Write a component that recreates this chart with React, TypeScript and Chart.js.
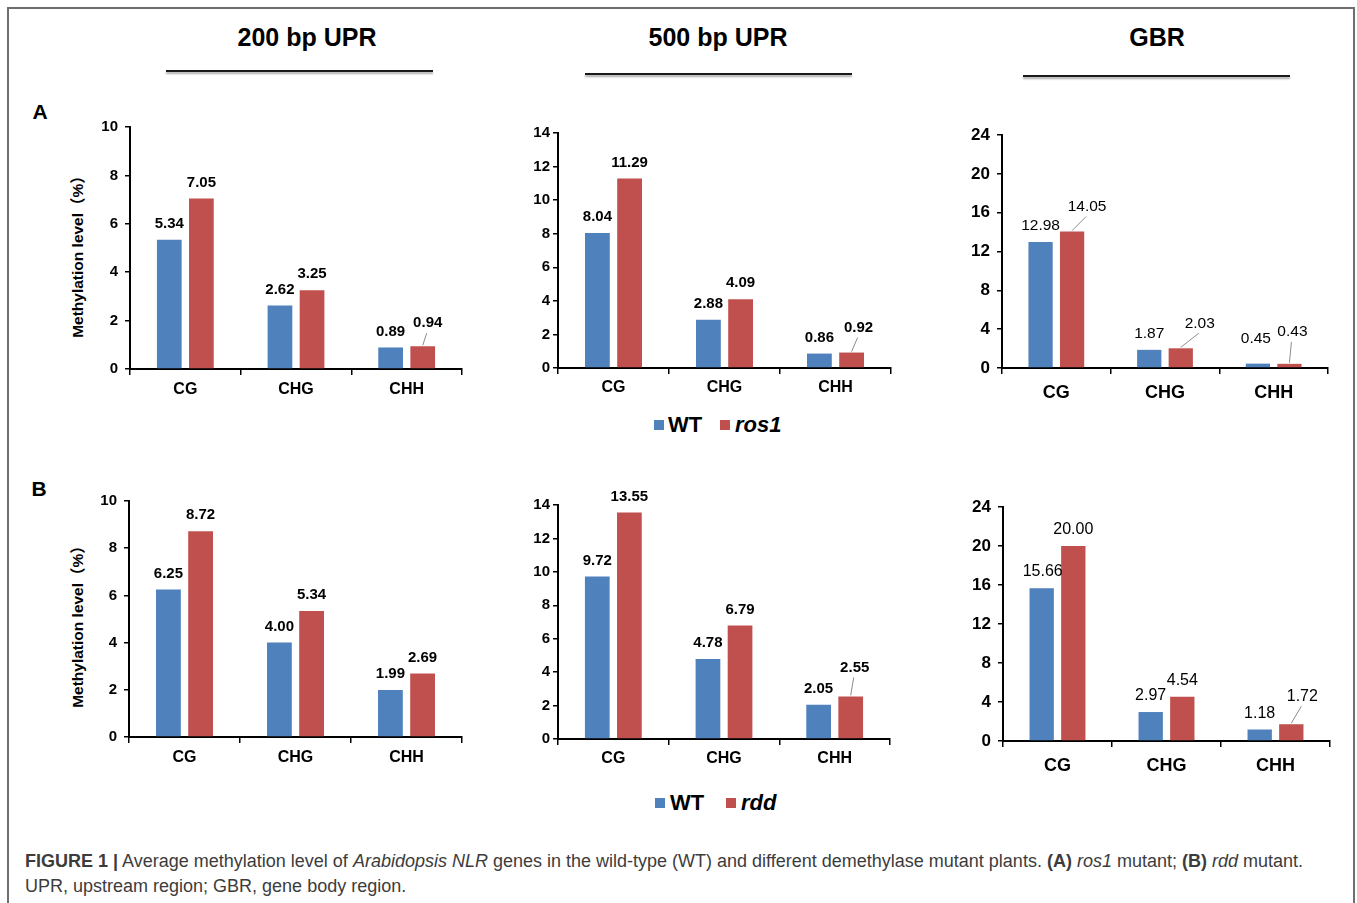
import React, { useEffect, useRef } from 'react';
import { Chart, registerables } from 'chart.js';

Chart.register(...registerables);

// ---------- data ----------
const categories = ['CG', 'CHG', 'CHH'];

const wtA200 = [5.34, 2.62, 0.89];
const ros1A200 = [7.05, 3.25, 0.94];
const wtA500 = [8.04, 2.88, 0.86];
const ros1A500 = [11.29, 4.09, 0.92];
const wtAGBR = [12.98, 1.87, 0.45];
const ros1AGBR = [14.05, 2.03, 0.43];

const wtB200 = [6.25, 4.0, 1.99];
const rddB200 = [8.72, 5.34, 2.69];
const wtB500 = [9.72, 4.78, 2.05];
const rddB500 = [13.55, 6.79, 2.55];
const wtBGBR = [15.66, 2.97, 1.18];
const rddBGBR = [20.0, 4.54, 1.72];

const ticks200 = [0, 2, 4, 6, 8, 10];
const ticks500 = [0, 2, 4, 6, 8, 10, 12, 14];
const ticksGBR = [0, 4, 8, 12, 16, 20, 24];

const regionTitles = ['200 bp UPR', '500 bp UPR', 'GBR'];
const yTitle = 'Methylation level（%）';

// ---------- styles ----------
const BLUE = '#4F81BD';
const RED = '#C0504D';
const FONT = "'Liberation Sans', Arial, Helvetica, sans-serif";
const CJKFONT = "'Liberation Sans', Arial, 'Noto Sans CJK SC', sans-serif";

const PADL = 60;
const PADT = 34;
const PADR = 14;
const XAX = 44;

type Nudge = { ds: number; i: number; dx: number; dy: number; leader?: boolean };
type Font = { size: number; weight: string };
type Panel = {
  wt: number[];
  mut: number[];
  mutName: string;
  ticks: number[];
  area: { l: number; t: number; r: number; b: number };
  tickFont: Font;
  tickPad: number;
  catFont: Font;
  catPad: number;
  labelFont: Font;
  nudges: Nudge[];
};

const small200Fonts = {
  tickFont: { size: 15, weight: 'bold' },
  tickPad: 7,
  catFont: { size: 16, weight: 'bold' },
  catPad: 5,
  labelFont: { size: 15, weight: 'bold' },
};
const mid500Fonts = {
  tickFont: { size: 15, weight: 'bold' },
  tickPad: 3,
  catFont: { size: 16, weight: 'bold' },
  catPad: 4,
  labelFont: { size: 15, weight: 'bold' },
};
const gbrFonts = {
  tickFont: { size: 17, weight: 'bold' },
  tickPad: 7,
  catFont: { size: 18, weight: 'bold' },
  catPad: 8,
  labelFont: { size: 15.5, weight: 'normal' },
};

const panels: Panel[] = [
  {
    wt: wtA200, mut: ros1A200, mutName: 'ros1', ticks: ticks200,
    area: { l: 130, t: 127, r: 462, b: 369 },
    ...small200Fonts,
    nudges: [{ ds: 1, i: 2, dx: 5, dy: -23, leader: true }],
  },
  {
    wt: wtA500, mut: ros1A500, mutName: 'ros1', ticks: ticks500,
    area: { l: 558, t: 133, r: 891, b: 368 },
    ...mid500Fonts,
    nudges: [{ ds: 1, i: 2, dx: 7, dy: -25, leader: true }],
  },
  {
    wt: wtAGBR, mut: ros1AGBR, mutName: 'ros1', ticks: ticksGBR,
    area: { l: 1002, t: 135, r: 1328, b: 368 },
    ...gbrFonts,
    nudges: [
      { ds: 1, i: 0, dx: 15, dy: -25, leader: true },
      { ds: 1, i: 1, dx: 19, dy: -25, leader: true },
      { ds: 1, i: 2, dx: 3, dy: -32, leader: true },
      { ds: 0, i: 2, dx: -2, dy: -25 },
    ],
  },
  {
    wt: wtB200, mut: rddB200, mutName: 'rdd', ticks: ticks200,
    area: { l: 129, t: 501, r: 462, b: 737 },
    ...small200Fonts,
    nudges: [],
  },
  {
    wt: wtB500, mut: rddB500, mutName: 'rdd', ticks: ticks500,
    area: { l: 558, t: 505, r: 890, b: 739 },
    ...mid500Fonts,
    nudges: [{ ds: 1, i: 2, dx: 4, dy: -29, leader: true }],
  },
  {
    wt: wtBGBR, mut: rddBGBR, mutName: 'rdd', ticks: ticksGBR,
    area: { l: 1003, t: 507, r: 1330, b: 741 },
    ...gbrFonts,
    labelFont: { size: 16, weight: 'normal' },
    nudges: [
      { ds: 0, i: 0, dx: 1, dy: -17 },
      { ds: 1, i: 2, dx: 11, dy: -28, leader: true },
    ],
  },
];

function makeLabelPlugin(p: Panel) {
  return {
    id: 'barLabels',
    afterDatasetsDraw(chart: any) {
      const ctx = chart.ctx as CanvasRenderingContext2D;
      ctx.save();
      ctx.font = `${p.labelFont.weight} ${p.labelFont.size}px ${FONT}`;
      ctx.textAlign = 'center';
      ctx.textBaseline = 'middle';
      chart.data.datasets.forEach((ds: any, di: number) => {
        const meta = chart.getDatasetMeta(di);
        meta.data.forEach((el: any, i: number) => {
          const v = ds.data[i] as number;
          const n = p.nudges.find((q) => q.ds === di && q.i === i);
          const dx = n ? n.dx : 0;
          const dy = n ? n.dy : -16;
          const lx = el.x + dx;
          const ly = el.y + dy;
          if (n && n.leader) {
            ctx.beginPath();
            ctx.strokeStyle = '#8c8c8c';
            ctx.lineWidth = 1;
            ctx.moveTo(el.x, el.y - 1);
            ctx.lineTo(lx - 1, ly + 10);
            ctx.stroke();
          }
          ctx.fillStyle = '#000';
          ctx.fillText(v.toFixed(2), lx, ly);
        });
      });
      ctx.restore();
    },
  };
}

function BarPanel({ p }: { p: Panel }) {
  const ref = useRef<HTMLCanvasElement>(null);
  const w = p.area.r - p.area.l + PADL + PADR;
  const h = p.area.b - p.area.t + PADT + XAX;
  useEffect(() => {
    const chart = new Chart(ref.current as HTMLCanvasElement, {
      type: 'bar',
      data: {
        labels: categories,
        datasets: [
          { label: 'WT', data: p.wt, backgroundColor: BLUE, borderWidth: 0, barPercentage: 0.77, categoryPercentage: 0.58 },
          { label: p.mutName, data: p.mut, backgroundColor: RED, borderWidth: 0, barPercentage: 0.77, categoryPercentage: 0.58 },
        ],
      },
      options: {
        responsive: false,
        animation: false,
        layout: { padding: { top: PADT, right: PADR, left: 0, bottom: 0 } },
        plugins: { legend: { display: false }, tooltip: { enabled: false }, title: { display: false } },
        scales: {
          x: {
            grid: { display: true, drawOnChartArea: false, drawTicks: true, tickLength: 6, color: '#000', lineWidth: 1.5, offset: true },
            border: { display: true, color: '#000', width: 2 },
            ticks: { color: '#000', font: { family: FONT, size: p.catFont.size, weight: p.catFont.weight as any }, padding: p.catPad, maxRotation: 0 },
            afterFit: (s: any) => { s.height = XAX; },
          },
          y: {
            min: p.ticks[0],
            max: p.ticks[p.ticks.length - 1],
            grid: { display: true, drawOnChartArea: false, drawTicks: true, tickLength: 5, color: '#000', lineWidth: 1.5 },
            border: { display: true, color: '#000', width: 2 },
            ticks: { color: '#000', font: { family: FONT, size: p.tickFont.size, weight: p.tickFont.weight as any }, padding: p.tickPad },
            afterBuildTicks: (s: any) => { s.ticks = p.ticks.map((v) => ({ value: v })); },
            afterFit: (s: any) => { s.width = PADL; },
          },
        },
      },
      plugins: [makeLabelPlugin(p)],
    } as any);
    return () => chart.destroy();
  }, []);
  return (
    <canvas
      ref={ref}
      width={w}
      height={h}
      style={{ position: 'absolute', left: p.area.l - PADL, top: p.area.t - PADT, width: w, height: h }}
    />
  );
}

function CText({ cx, cy, size, children, style }: any) {
  return (
    <div
      style={{
        position: 'absolute', left: cx - 200, top: cy - size / 2, width: 400, height: size,
        lineHeight: `${size}px`, fontSize: size, textAlign: 'center', whiteSpace: 'nowrap', color: '#000',
        fontFamily: FONT, fontWeight: 'bold', ...style,
      }}
    >
      {children}
    </div>
  );
}

function Legend({ cy, mutName, pos }: { cy: number; mutName: string; pos: number[] }) {
  const sq = (left: number, color: string) => (
    <div style={{ position: 'absolute', left, top: cy - 5, width: 10, height: 10, background: color }} />
  );
  const txt = (left: number, t: string, italic: boolean) => (
    <div style={{ position: 'absolute', left, top: cy - 12, height: 24, lineHeight: '24px', fontSize: 22, fontWeight: 'bold', fontStyle: italic ? 'italic' : 'normal', fontFamily: FONT, whiteSpace: 'nowrap', color: '#000' }}>{t}</div>
  );
  return (
    <>
      {sq(pos[0], BLUE)}
      {txt(pos[1], 'WT', false)}
      {sq(pos[2], RED)}
      {txt(pos[3], mutName, true)}
    </>
  );
}

function YTitle({ cx, cy }: { cx: number; cy: number }) {
  return (
    <div
      style={{
        position: 'absolute', left: cx - 120, top: cy - 10, width: 240, height: 20, lineHeight: '20px',
        textAlign: 'center', transform: 'rotate(-90deg)', fontFamily: CJKFONT, fontWeight: 'bold', fontSize: 15.5,
        color: '#000', whiteSpace: 'nowrap',
      }}
    >
      {yTitle}
    </div>
  );
}

export default function App() {
  const titleX = [307, 718, 1157];
  const lines = [
    { l: 166, r: 433, y: 70 },
    { l: 585, r: 852, y: 73 },
    { l: 1023, r: 1290, y: 75 },
  ];
  return (
    <div style={{ position: 'absolute', left: 0, top: 0, width: 1357, height: 903, overflow: 'hidden', background: '#fff', fontFamily: FONT }}>
      <div style={{ position: 'absolute', left: 7, top: 7, width: 1348, height: 960, border: '2px solid #6e6e6e', boxSizing: 'border-box' }} />
      {regionTitles.map((t, i) => (
        <CText key={t} cx={titleX[i]} cy={37} size={25}>{t}</CText>
      ))}
      {lines.map((ln, i) => (
        <div key={i} style={{ position: 'absolute', left: ln.l, top: ln.y, width: ln.r - ln.l, height: 2, background: '#1a1a1a', boxShadow: '0 2px 2px rgba(0,0,0,0.35)' }} />
      ))}
      <CText cx={40} cy={111} size={21}>A</CText>
      <CText cx={39} cy={488} size={21}>B</CText>
      <YTitle cx={78} cy={253} />
      <YTitle cx={78} cy={623} />
      {panels.map((p, i) => <BarPanel key={i} p={p} />)}
      <Legend cy={425} mutName="ros1" pos={[654, 668, 720, 735]} />
      <Legend cy={803} mutName="rdd" pos={[655, 670, 726, 741]} />
      <div style={{ position: 'absolute', left: 25, top: 849, fontSize: 18, lineHeight: '25px', color: '#3c3c3c', fontFamily: FONT, whiteSpace: 'nowrap' }}>
        <div>
          <b>FIGURE 1 |</b> Average methylation level of <i>Arabidopsis NLR</i> genes in the wild-type (WT) and different demethylase mutant plants. <b>(A)</b> <i>ros1</i> mutant; <b>(B)</b> <i>rdd</i> mutant.
        </div>
        <div>UPR, upstream region; GBR, gene body region.</div>
      </div>
    </div>
  );
}
